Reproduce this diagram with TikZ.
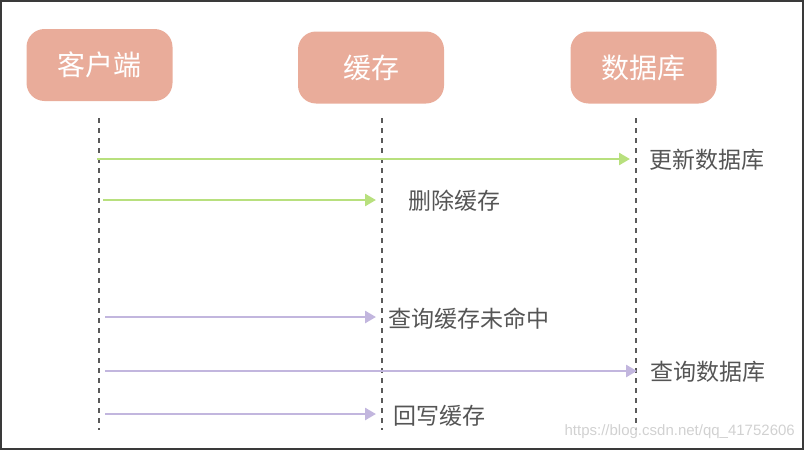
\documentclass[tikz,border=0pt]{standalone}
\usepackage{fontspec}
\setmainfont{Liberation Sans}
\newfontfamily\cjk{Noto Sans CJK SC}
\usetikzlibrary{arrows.meta}
\definecolor{boxred}{HTML}{E9AC9A}
\definecolor{msggreen}{HTML}{B8E07E}
\definecolor{msgpurple}{HTML}{C2B6DE}
\definecolor{linegray}{HTML}{5A5A5A}
\definecolor{textgray}{HTML}{555555}
\definecolor{framegray}{HTML}{3A3A3A}
\begin{document}
\begin{tikzpicture}[x=1pt, y=-1pt]
\tikzstyle{actor}=[rounded corners=18pt, fill=boxred, minimum width=146pt, minimum height=72pt, inner sep=0pt, text=white, font=\cjk\fontsize{28}{28}\selectfont]
\tikzstyle{life}=[draw=linegray, line width=2pt, dash pattern=on 5pt off 5pt]
\tikzstyle{msg}=[line width=2.6pt, -{Triangle[length=11pt,width=12pt]}]
\tikzstyle{note}=[anchor=west, inner sep=0pt, text=textgray, font=\cjk\fontsize{23}{23}\selectfont]
    \useasboundingbox (0,0) rectangle (804,450);
    \draw [framegray, line width=2pt] (1,1) rectangle (803,449);
    % participants
    \node [actor] (client) at (99.5,65) {客户端};
    \node [actor] (cache) at (371,67.5) {缓存};
    \node [actor] (db) at (643.5,67.5) {数据库};
    % lifelines
    \coordinate (client top) at (99,118);
    \coordinate (client bot) at (99,430);
    \coordinate (cache top) at (382,118);
    \coordinate (cache bot) at (382,430);
    \coordinate (db top) at (636,118);
    \coordinate (db bot) at (636,430);
    \draw [life] (client top) -- (client bot);
    \draw [life] (cache top) -- (cache bot);
    \draw [life] (db top) -- (db bot);
    % write path
    \coordinate (m1 s) at (97,159);  \coordinate (m1 e) at (630,159);
    \coordinate (m2 s) at (103,200); \coordinate (m2 e) at (376,200);
    \draw [msg, msggreen] (m1 s) -- (m1 e);
    \draw [msg, msggreen] (m2 s) -- (m2 e);
    \node [note] (n1) at (649,160) {更新数据库};
    \node [note] (n2) at (408,201) {删除缓存};
    % read path
    \coordinate (m3 s) at (105,317); \coordinate (m3 e) at (376,317);
    \coordinate (m4 s) at (105,371); \coordinate (m4 e) at (637,371);
    \coordinate (m5 s) at (105,414); \coordinate (m5 e) at (376,414);
    \draw [msg, msgpurple] (m3 s) -- (m3 e);
    \draw [msg, msgpurple] (m4 s) -- (m4 e);
    \draw [msg, msgpurple] (m5 s) -- (m5 e);
    \node [note] (n3) at (388,319) {查询缓存未命中};
    \node [note] (n4) at (650,372) {查询数据库};
    \node [note] (n5) at (393,416) {回写缓存};
    % watermark
    \node [anchor=east, inner sep=0pt, text=black!18, font=\fontsize{15}{15}\selectfont] (mark) at (795,432) {https://blog.csdn.net/qq\_41752606};
\end{tikzpicture}
\end{document}
